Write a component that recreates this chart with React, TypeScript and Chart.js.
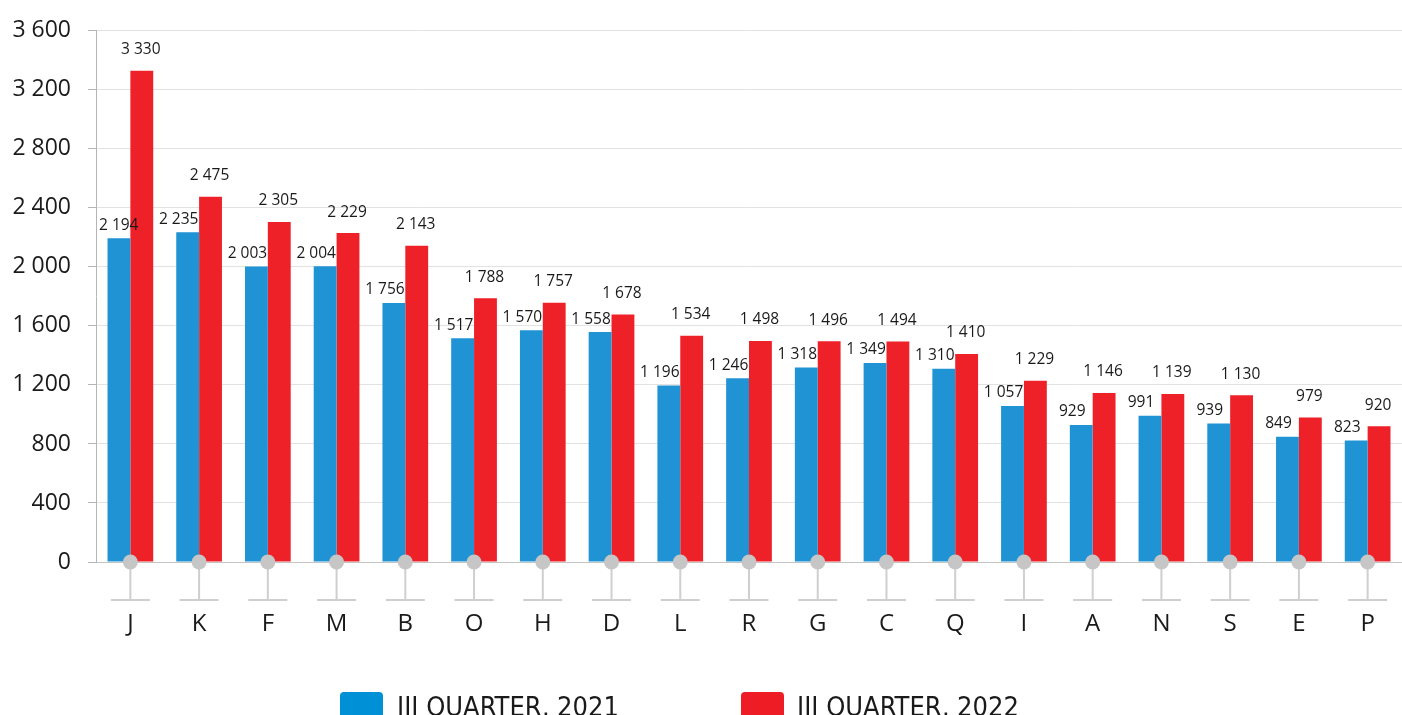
import React, { useEffect, useRef } from "react";
import { Chart, registerables } from "chart.js";

Chart.register(...registerables);

const categories = ["J", "K", "F", "M", "B", "O", "H", "D", "L", "R", "G", "C", "Q", "I", "A", "N", "S", "E", "P"];
const values2021 = [2194, 2235, 2003, 2004, 1756, 1517, 1570, 1558, 1196, 1246, 1318, 1349, 1310, 1057, 929, 991, 939, 849, 823];
const values2022 = [3330, 2475, 2305, 2229, 2143, 1788, 1757, 1678, 1534, 1498, 1496, 1494, 1410, 1229, 1146, 1139, 1130, 979, 920];
const seriesLabels = ["III QUARTER, 2021", "III QUARTER, 2022"];
const barColors = ["#1f93d3", "#ee2129"];
const legendColors = ["#0090d6", "#ee1c25"];

const fmt = (v: number) => {
  const s = String(Math.round(v));
  return s.replace(/\B(?=(\d{3})+(?!\d))/g, " ");
};

const FONT = "'Open Sans', 'Noto Sans', sans-serif";

const decoPlugin = {
  id: "deco",
  afterDatasetsDraw(chart: any) {
    const ctx = chart.ctx;
    const xs = chart.scales.x;
    const area = chart.chartArea;
    ctx.save();
    for (let i = 0; i < categories.length; i++) {
      const cx = xs.getPixelForValue(i);
      const by = area.bottom;
      ctx.strokeStyle = "#cfcfcf";
      ctx.lineWidth = 2;
      ctx.beginPath();
      ctx.moveTo(cx, by);
      ctx.lineTo(cx, by + 38);
      ctx.moveTo(cx - 19.5, by + 38);
      ctx.lineTo(cx + 19.5, by + 38);
      ctx.stroke();
      ctx.fillStyle = "#c6c6c6";
      ctx.beginPath();
      ctx.arc(cx, by, 7.5, 0, Math.PI * 2);
      ctx.fill();
    }
    ctx.font = `15.5px ${FONT}`;
    ctx.fillStyle = "#1a1a1a";
    ctx.textAlign = "center";
    ctx.textBaseline = "middle";
    const offsets = [
      { dx: -9, dy: -13 },
      { dx: -1, dy: -21 },
    ];
    chart.data.datasets.forEach((ds: any, di: number) => {
      const meta = chart.getDatasetMeta(di);
      meta.data.forEach((el: any, i: number) => {
        const txt = fmt(ds.data[i]);
        const w = ctx.measureText(txt).width;
        let cx = el.x + offsets[di].dx;
        if (cx - w / 2 < area.left + 3) cx = area.left + 3 + w / 2;
        ctx.fillText(txt, cx, el.y + offsets[di].dy);
      });
    });
    ctx.restore();
  },
  afterDraw(chart: any) {
    const ctx = chart.ctx;
    ctx.save();
    const items = [
      { x: 340, textX: 397 },
      { x: 741, textX: 797 },
    ];
    ctx.font = `27px 'Liberation Sans Narrow', 'DejaVu Sans Condensed', sans-serif`;
    ctx.textAlign = "left";
    ctx.textBaseline = "alphabetic";
    items.forEach((it, i) => {
      ctx.fillStyle = legendColors[i];
      ctx.beginPath();
      (ctx as any).roundRect(it.x, 692, 43, 40, 4);
      ctx.fill();
      ctx.fillStyle = "#1a1a1a";
      ctx.fillText(seriesLabels[i], it.textX, 716);
    });
    ctx.restore();
  },
};

export default function App() {
  const ref = useRef<HTMLCanvasElement | null>(null);
  useEffect(() => {
    document.body.style.margin = "0";
    if (!ref.current) return;
    const chart = new Chart(ref.current, {
      type: "bar",
      data: {
        labels: categories,
        datasets: [
          { label: seriesLabels[0], data: values2021, backgroundColor: barColors[0], categoryPercentage: 0.665, barPercentage: 1 },
          { label: seriesLabels[1], data: values2022, backgroundColor: barColors[1], categoryPercentage: 0.665, barPercentage: 1 },
        ],
      },
      options: {
        animation: false,
        responsive: true,
        maintainAspectRatio: false,
        layout: { padding: { top: 28, right: -4, bottom: 0, left: 0 } },
        plugins: { legend: { display: false }, tooltip: { enabled: false } },
        scales: {
          x: {
            grid: { display: false },
            border: { display: true, color: "#c4c4c4", width: 1 },
            ticks: { color: "#1a1a1a", font: { size: 24, family: FONT }, padding: 40 },
            afterFit(scale: any) {
              scale.height = 153;
              scale.paddingLeft = 0;
              scale.paddingRight = 0;
            },
          },
          y: {
            min: 0,
            max: 3600,
            grid: { color: "#e2e2e2", tickColor: "#b5b5b5", tickLength: 8 },
            border: { color: "#b5b5b5" },
            ticks: {
              stepSize: 400,
              color: "#1a1a1a",
              font: { size: 23, family: FONT },
              padding: 17,
              callback: (v: any) => fmt(Number(v)),
            },
            afterFit(scale: any) {
              scale.width = 96;
            },
          },
        },
      },
      plugins: [decoPlugin],
    });
    return () => chart.destroy();
  }, []);
  return (
    <div style={{ width: 1402, height: 715, position: "relative" }}>
      <canvas ref={ref} />
    </div>
  );
}
